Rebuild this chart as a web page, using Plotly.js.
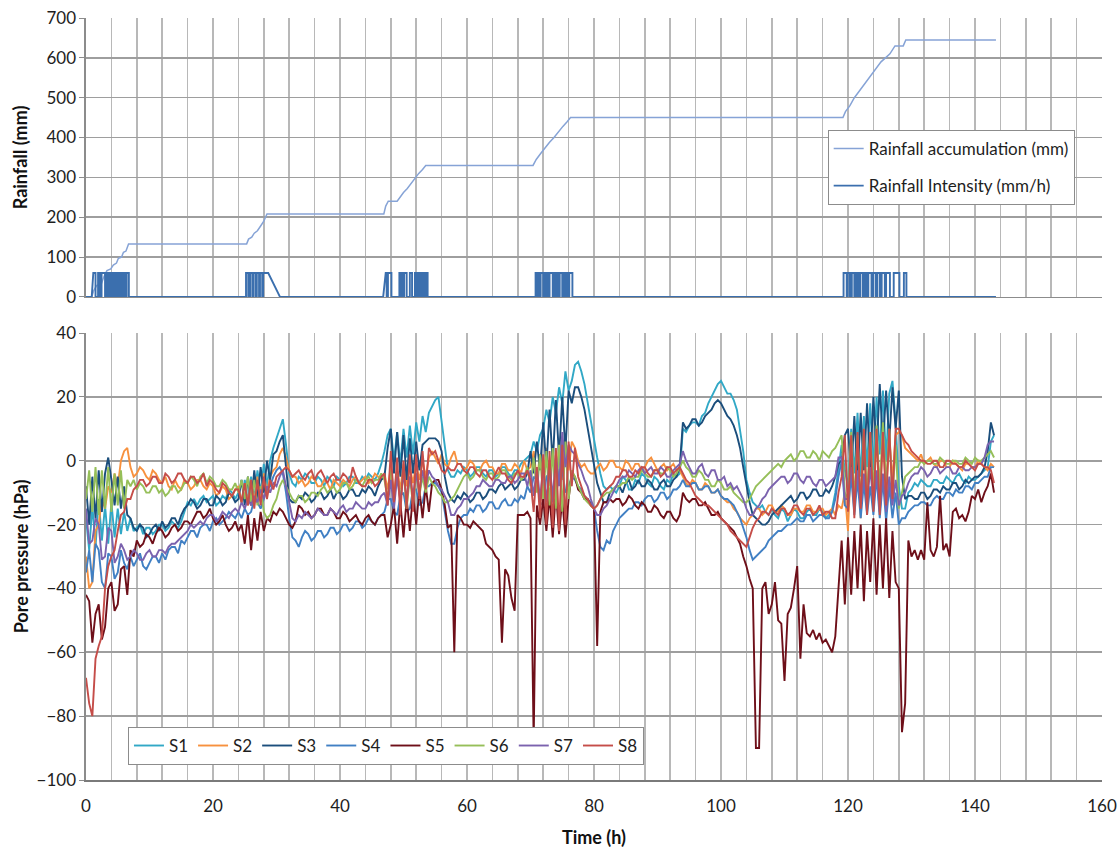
<!DOCTYPE html>
<html>
<head>
<meta charset="utf-8">
<script src="https://cdn.plot.ly/plotly-3.0.1.min.js"></script>
<style>html,body{margin:0;padding:0;background:#fff;}#chart{width:1118px;height:850px;}</style>
</head>
<body>
<div id="chart"></div>
<script>
// ---------- DATA ----------
// sample times (h) of the pore pressure readings, every half hour
const time = [0,0.5,1,1.5,2,2.5,3,3.5,4,4.5,5,5.5,6,6.5,7,7.5,8,8.5,9,9.5,10,10.5,11,11.5,
12,12.5,13,13.5,14,14.5,15,15.5,16,16.5,17,17.5,18,18.5,19,19.5,20,20.5,21,21.5,22,22.5,23,23.5,
24,24.5,25,25.5,26,26.5,27,27.5,28,28.5,29,29.5,30,30.5,31,31.5,32,32.5,33,33.5,34,34.5,35,35.5,
36,36.5,37,37.5,38,38.5,39,39.5,40,40.5,41,41.5,42,42.5,43,43.5,44,44.5,45,45.5,46,46.5,47,47.5,
48,48.5,49,49.5,50,50.5,51,51.5,52,52.5,53,53.5,54,54.5,55,55.5,56,56.5,57,57.5,58,58.5,59,59.5,
60,60.5,61,61.5,62,62.5,63,63.5,64,64.5,65,65.5,66,66.5,67,67.5,68,68.5,69,69.5,70,70.5,71,71.5,
72,72.5,73,73.5,74,74.5,75,75.5,76,76.5,77,77.5,78,78.5,79,79.5,80,80.5,81,81.5,82,82.5,83,83.5,
84,84.5,85,85.5,86,86.5,87,87.5,88,88.5,89,89.5,90,90.5,91,91.5,92,92.5,93,93.5,94,94.5,95,95.5,
96,96.5,97,97.5,98,98.5,99,99.5,100,100.5,101,101.5,102,102.5,103,103.5,104,104.5,105,105.5,106,106.5,107,107.5,
108,108.5,109,109.5,110,110.5,111,111.5,112,112.5,113,113.5,114,114.5,115,115.5,116,116.5,117,117.5,118,118.5,119,119.5,
120,120.5,121,121.5,122,122.5,123,123.5,124,124.5,125,125.5,126,126.5,127,127.5,128,128.5,129,129.5,130,130.5,131,131.5,
132,132.5,133,133.5,134,134.5,135,135.5,136,136.5,137,137.5,138,138.5,139,139.5,140,140.5,141,141.5,142,142.5,143];

const S1 = [-18,-28,-14,-27,-12,-25,-14,-26,-13,-24,-15,-23,-16,-22,-18,-22,-21,-20,-23,-21,-21,-23,-22,-20,
-20,-22,-21,-19,-20,-21,-19,-16,-13,-14,-12,-14,-12,-11,-13,-12,-11,-14,-13,-11,-12,-9,-10,-12,
-10,-13,-6,-13,-5,-12,-3,-10,-1,-8,0,4,7,10,13,5,-4,-7,-8,-5,-6,-4,-5,-7,
-7,-5,-6,-8,-5,-6,-8,-5,-6,-8,-7,-5,-5,-7,-7,-5,-6,-4,-5,-6,-4,-1,3,8,
10,0,9,-1,10,1,11,2,12,6,14,9,15,17,19,20,12,4,-3,-5,-5,-3,-4,-2,
-3,-5,-4,-2,-2,-4,-5,-3,-3,-5,-4,-2,-2,-4,-5,-3,-3,-1,0,1,2,6,3,8,
10,16,12,20,15,23,18,28,22,25,30,31,28,24,18,12,7,1,-4,-8,-9,-8,-9,-10,
-8,-5,-6,-9,-9,-6,-7,-4,-5,-7,-8,-5,-6,-8,-9,-6,-7,-4,-5,-4,10,9,11,12,
12,11,14,15,18,20,22,24,25,23,21,21,19,16,10,3,-6,-10,-13,-14,-15,-14,-16,-17,
-15,-17,-18,-15,-16,-19,-17,-15,-16,-18,-18,-16,-15,-17,-17,-15,-16,-18,-17,-15,-10,-2,5,-3,
-8,10,-4,15,-5,14,-2,18,-3,20,2,22,0,21,25,12,-8,-15,-15,-10,-9,-7,-8,-6,
-7,-8,-8,-6,-6,-7,-7,-5,-6,-7,-5,-4,-6,-7,-5,-6,-6,-5,-4,-3,-2,6,8];

const S2 = [-30,-40,-38,-22,-20,-12,-15,-8,-10,-4,-8,0,3,4,-2,-5,-4,-2,-3,-5,-6,-3,-4,-6,
-7,-5,-8,-9,-6,-8,-9,-6,-7,-9,-8,-6,-6,-8,-9,-7,-8,-11,-10,-8,-9,-12,-11,-9,
-8,-13,-7,-14,-6,-13,-5,-12,-4,-10,-5,-3,-2,2,4,1,-3,-5,-5,-7,-6,-8,-7,-5,
-6,-8,-8,-6,-7,-9,-6,-7,-8,-6,-7,-8,-6,-5,-7,-6,-5,-7,-6,-4,-5,-6,-4,-9,
-2,-10,-3,-9,-1,-8,-2,-7,-1,-6,0,-5,1,3,1,-1,2,-1,-2,1,3,-1,-1,-3,
-2,0,-1,-3,-3,-1,0,-2,-2,-4,-4,-1,-1,-3,-3,-1,-2,-4,0,-3,-2,3,-6,2,
-6,4,-8,5,-9,6,-6,7,-3,6,4,0,-2,-1,-3,-4,-4,-2,-1,-3,-2,0,0,-2,
-2,-3,0,-1,-3,-1,-1,-3,-2,0,1,-1,-3,-2,-1,-3,-2,-1,-3,-3,-5,-7,-8,-6,
-7,-9,-9,-7,-8,-10,-10,-9,-11,-12,-13,-13,-15,-16,-18,-19,-20,-18,-17,-15,-15,-17,-16,-14,
-14,-16,-16,-14,-15,-17,-17,-15,-15,-16,-16,-14,-14,-16,-16,-15,-15,-17,-16,-15,-17,-14,-15,-10,
-22,2,-16,5,-18,6,-14,6,-15,8,-12,8,-10,7,-6,8,9,8,4,3,2,1,0,2,
-1,0,1,-1,-2,0,0,-2,-2,0,-1,-2,-3,-1,-1,-2,-2,0,-1,-2,-3,-1,-2];

const S3 = [-8,-20,-5,-18,-3,-16,-4,1,-6,-14,-5,-15,-8,-17,-18,-21,-22,-20,-21,-24,-23,-21,-20,-22,
-19,-21,-20,-18,-18,-20,-17,-15,-14,-12,-13,-15,-14,-12,-12,-14,-14,-11,-12,-14,-13,-10,-11,-13,
-12,-6,-14,-5,-14,-3,-12,-2,-10,0,-6,2,3,6,8,-2,-12,-13,-13,-11,-12,-10,-11,-13,
-12,-10,-10,-12,-11,-9,-12,-10,-10,-12,-11,-9,-9,-11,-11,-9,-10,-8,-9,-11,-8,-6,-5,4,
10,-4,9,-5,8,-6,7,-4,6,-3,5,6,7,7,7,6,3,-5,-10,-12,-13,-11,-12,-10,
-11,-13,-12,-10,-10,-12,-11,-9,-9,-10,-8,-7,-9,-8,-7,-9,-8,-6,-6,-4,3,-4,6,-3,
12,-2,16,-1,19,1,20,3,22,18,23,23,20,16,10,5,-2,-7,-10,-13,-13,-10,-9,-8,
-8,-10,-7,-6,-9,-8,-6,-8,-8,-6,-7,-9,-9,-7,-6,-8,-8,-6,-5,-2,12,10,11,13,
13,11,12,14,15,16,18,19,18,16,14,13,11,8,4,-2,-8,-13,-17,-18,-19,-20,-20,-19,
-17,-16,-15,-14,-13,-12,-11,-13,-12,-10,-10,-12,-11,-9,-9,-11,-11,-9,-10,-8,-5,-1,0,8,
10,-4,14,-5,15,-3,18,-2,20,3,24,5,22,6,23,10,22,-5,-12,-11,-11,-12,-12,-10,
-10,-12,-11,-9,-9,-10,-8,-9,-9,-7,-7,-9,-8,-6,-7,-6,-5,-5,-4,-2,3,12,8];

const S4 = [-35,-28,-38,-26,-28,-38,-40,-29,-30,-37,-35,-28,-32,-34,-30,-33,-31,-29,-33,-34,-32,-30,-30,-32,
-29,-31,-28,-27,-27,-29,-25,-26,-24,-22,-22,-24,-21,-20,-20,-22,-19,-18,-20,-19,-18,-16,-17,-18,
-16,-18,-15,-17,-16,-12,-13,-15,-12,-9,-8,-5,-3,-2,-4,-10,-18,-24,-25,-27,-24,-22,-23,-25,
-24,-22,-22,-24,-23,-21,-21,-23,-22,-20,-20,-22,-21,-19,-19,-21,-20,-18,-19,-20,-18,-17,-16,-12,
-12,-16,-17,-11,-10,-16,-15,-9,-9,-14,-13,-8,-8,-7,-7,-8,-10,-16,-22,-26,-26,-21,-18,-17,
-17,-15,-16,-14,-14,-16,-15,-13,-13,-15,-15,-13,-12,-14,-14,-12,-13,-11,-12,-8,-10,-5,-6,-13,
-14,-5,-4,-13,-12,-3,-3,-10,-8,-5,-6,-8,-9,-11,-12,-13,-15,-22,-27,-28,-25,-26,-22,-20,
-18,-17,-16,-15,-15,-13,-13,-14,-12,-11,-11,-13,-12,-10,-10,-12,-11,-9,-9,-8,-6,-8,-8,-7,
-7,-9,-9,-8,-8,-10,-10,-9,-11,-12,-12,-13,-14,-16,-18,-21,-24,-28,-31,-30,-29,-28,-27,-25,
-24,-23,-22,-22,-21,-20,-20,-19,-18,-19,-19,-17,-17,-19,-18,-17,-17,-18,-18,-16,-12,-5,0,-14,
-15,-5,-17,-6,-18,-7,-17,-8,-17,-5,-18,-6,-19,-8,-18,-10,-20,-18,-18,-16,-15,-14,-14,-13,
-13,-14,-14,-12,-11,-12,-12,-10,-10,-11,-9,-10,-10,-8,-8,-9,-7,-7,-6,-5,-5,-2,-2];

const S5 = [-42,-44,-57,-48,-45,-56,-52,-40,-38,-47,-45,-34,-33,-42,-28,-30,-25,-27,-26,-23,-24,-26,-23,-21,
-22,-24,-23,-21,-20,-22,-21,-19,-19,-20,-18,-16,-16,-18,-17,-15,-18,-20,-19,-17,-20,-22,-21,-19,
-22,-20,-26,-17,-28,-18,-25,-16,-22,-18,-19,-16,-17,-15,-16,-18,-20,-21,-19,-14,-15,-17,-16,-18,
-17,-15,-15,-17,-17,-15,-16,-18,-18,-16,-17,-19,-18,-17,-19,-20,-18,-17,-19,-20,-18,-17,-17,-24,
-20,-14,-26,-13,-24,-12,-22,-10,-20,-9,-18,-8,-16,-7,-6,-6,-9,-14,-21,-20,-60,-17,-18,-20,
-20,-21,-19,-20,-21,-22,-26,-27,-28,-30,-31,-57,-34,-36,-43,-47,-17,-17,-17,-16,-18,-88,-14,-20,
-12,-22,-11,-24,-10,-23,-12,-24,-12,-4,-5,-9,-10,-12,-12,-14,-15,-58,-16,-13,-13,-12,-13,-12,
-12,-14,-13,-11,-12,-14,-15,-13,-14,-16,-16,-14,-15,-17,-18,-16,-16,-18,-19,-17,-10,-12,-13,-12,
-12,-14,-14,-13,-15,-17,-17,-16,-18,-19,-20,-21,-22,-24,-26,-30,-33,-37,-40,-90,-90,-40,-38,-48,
-45,-38,-50,-51,-69,-48,-46,-40,-33,-62,-45,-54,-55,-53,-56,-54,-57,-56,-58,-60,-55,-40,-25,-45,
-24,-42,-22,-40,-20,-44,-22,-38,-18,-42,-20,-40,-18,-43,-22,-38,-40,-85,-76,-25,-30,-28,-31,-28,
-31,-13,-28,-30,-27,-11,-28,-26,-30,-16,-15,-18,-17,-19,-16,-11,-12,-9,-13,-10,-8,-4,-10];

const S6 = [-12,-3,-16,-2,-17,-3,-15,-2,-16,-4,-14,-3,-15,-6,-8,-6,-9,-7,-8,-10,-10,-8,-8,-10,
-9,-11,-10,-8,-8,-10,-9,-7,-7,-5,-6,-8,-5,-4,-7,-5,-6,-8,-8,-6,-7,-9,-9,-7,
-10,-6,-12,-5,-13,-6,-14,-8,-16,-18,-17,-14,-12,-8,-6,-8,-10,-12,-13,-11,-11,-13,-12,-10,
-10,-11,-9,-8,-10,-9,-8,-10,-9,-7,-7,-9,-8,-6,-7,-8,-6,-5,-7,-6,-6,-4,-6,-12,
-3,-13,-4,-12,-3,-15,-5,-14,-4,-11,-5,-10,-5,-7,-8,-10,-11,-13,-13,-12,-11,-9,-7,-5,
-4,-6,-5,-3,-3,-5,-6,-4,-4,-6,-5,-3,-3,-5,-6,-4,-4,-6,-5,-2,-8,1,-10,2,
-12,3,-14,4,-15,5,-16,6,-12,-3,-5,-8,-10,-12,-13,-14,-15,-14,-12,-11,-10,-10,-9,-8,
-8,-7,-7,-5,-6,-5,-5,-3,-4,-5,-5,-3,-3,-4,-4,-2,-3,-5,-4,-2,0,-2,-3,-5,
-5,-3,-4,-6,-6,-8,-8,-6,-7,-9,-9,-8,-10,-11,-12,-13,-13,-12,-10,-8,-7,-6,-5,-4,
-3,-2,-1,-2,0,1,2,0,1,3,3,1,1,3,2,0,3,2,1,3,4,6,8,-10,
-12,9,-13,8,-14,10,-12,9,-10,11,-9,12,-8,10,-12,5,-15,-10,-5,-4,-3,-2,-2,0,
-1,0,0,-1,-1,1,0,-1,-1,0,0,-1,-1,1,0,-1,1,0,0,1,2,3,1];

const S7 = [-15,-26,-25,-18,-20,-31,-30,-21,-22,-32,-30,-26,-28,-31,-30,-28,-29,-31,-31,-29,-28,-30,-30,-28,
-28,-29,-27,-26,-26,-25,-24,-23,-22,-20,-21,-20,-19,-20,-18,-17,-17,-19,-18,-16,-17,-18,-16,-15,
-16,-13,-15,-12,-14,-11,-13,-9,-12,-8,-10,-7,-8,-5,-3,-8,-14,-18,-19,-17,-18,-16,-17,-18,
-17,-15,-16,-17,-17,-15,-16,-17,-15,-14,-16,-15,-15,-13,-14,-15,-15,-13,-14,-13,-13,-11,-10,-14,
-6,-15,-5,-13,-4,-12,-5,-11,-4,-10,-3,-8,-3,-5,-6,-8,-9,-11,-13,-17,-17,-15,-14,-12,
-12,-11,-10,-8,-8,-6,-7,-8,-8,-6,-6,-7,-7,-5,-5,-7,-6,-4,-4,-8,-3,-11,-2,-12,
-2,-13,0,-12,2,-8,9,-2,5,3,2,-1,-3,-6,-8,-12,-15,-17,-17,-15,-14,-12,-10,-8,
-6,-5,-5,-3,-4,-5,-3,-2,-4,-3,-2,-4,-4,-2,-3,-5,-5,-3,-2,-1,3,0,-2,-4,
-4,-2,-1,-4,-5,-3,-3,-6,-6,-5,-8,-7,-9,-8,-10,-12,-15,-17,-17,-15,-14,-12,-11,-9,
-8,-7,-6,-5,-5,-7,-6,-4,-4,-6,-7,-5,-5,-7,-8,-6,-6,-8,-7,-6,-5,1,1,-12,
-12,-2,-14,-3,-15,-4,-14,-2,-14,-3,-16,-4,-16,-5,-14,-6,-14,-11,-10,-7,-5,-4,-4,-2,
-3,-5,-4,-2,-2,-4,-3,-2,-2,-4,-4,-2,-2,-3,-3,-2,-2,-1,-1,1,5,6,6];

const S8 = [-68,-76,-80,-62,-58,-55,-40,-33,-30,-28,-22,-17,-16,-12,-12,-9,-8,-6,-6,-8,-7,-5,-5,-7,
-7,-4,-5,-7,-6,-4,-4,-6,-7,-5,-5,-7,-6,-4,-8,-6,-7,-9,-10,-7,-8,-10,-11,-9,
-9,-13,-7,-14,-6,-15,-6,-14,-5,-12,-6,-9,-5,-4,-3,-2,-3,-5,-4,-3,-5,-6,-4,-3,
-6,-4,-3,-5,-7,-5,-4,-6,-6,-4,-5,-7,-2,-5,-7,-8,-8,-6,-6,-8,-7,-5,-4,-14,
3,-13,1,-17,0,-15,2,-16,2,-12,3,-9,4,2,3,0,-3,-4,-2,-3,-3,-1,-1,-3,
-4,-2,-2,-4,-5,-3,-3,-5,-6,-4,-2,-4,-4,-6,-7,-5,-3,-5,-5,-3,-6,-16,-2,-18,
2,-20,3,-21,4,-22,5,-20,6,-8,4,-5,-8,-11,-12,-14,-15,-14,-12,-10,-9,-8,-7,-5,
-5,-3,-3,-5,-5,-3,-4,-2,-2,-4,-5,-3,-3,-5,-4,-2,-2,-4,-3,-2,-4,-6,-7,-9,
-11,-12,-13,-14,-14,-15,-16,-17,-18,-19,-20,-22,-23,-24,-25,-26,-27,-24,-21,-19,-18,-16,-16,-17,
-15,-16,-17,-15,-15,-17,-16,-14,-14,-16,-17,-15,-15,-17,-16,-14,-17,-16,-16,-18,-18,-10,-5,8,
-16,8,-18,9,-15,10,-17,9,-16,10,-17,9,-14,10,-12,10,10,8,6,5,3,2,1,0,
0,-1,-1,0,0,-2,-2,0,0,-1,-1,-2,-2,0,-1,-2,-3,-1,-1,-2,-2,-3,-7];

const sensorNames = ['S1','S2','S3','S4','S5','S6','S7','S8'];

// rainfall accumulation (mm)
const accTime = [0,0.9,1.2,1.7,2.4,2.8,3.3,3.9,4.3,4.8,5.1,5.6,5.9,6.3,6.7,25.3,25.6,26.1,26.5,27.0,27.5,28.0,28.5,46.9,47.2,47.6,49.0,49.4,50.0,50.6,51.2,51.8,52.4,53.0,53.5,70.4,70.9,71.6,72.3,73.0,73.7,74.4,75.1,75.8,76.3,119.2,119.6,120.3,121.0,121.7,122.4,123.1,123.8,124.5,125.2,125.9,126.6,127.4,128.7,129.1,143.3];
const accRain = [0,0,15,29,32,50,66,70,80,85,97,100,112,115,133,133,145,150,160,166,178,190,208,208,228,240,240,250,262,272,285,297,310,320,330,330,345,360,375,388,400,415,428,440,450,450,465,480,500,515,530,545,560,575,590,600,610,630,630,645,645];

// rainfall intensity pulses (mm/h): start, end, rise/fall durations (h)
const pulseOn  = [0.9,1.9,2.45,3.25,3.8,4.3,4.85,5.35,5.9,6.4,
  25.2,25.85,26.35,26.9,27.4,27.9,
  46.8,47.55,49.35,49.7,50.1,51.0,51.8,52.15,52.6,52.95,53.3,53.65,
  70.8,71.15,71.6,72.2,72.55,73.0,73.8,74.15,74.6,75.3,75.65,76.1,
  119.3,119.95,120.6,121.3,121.9,122.6,123.2,124.0,124.6,125.3,126.0,127.2,128.8];
const pulseOff = [1.5,2.2,3.0,3.5,4.05,4.55,5.1,5.6,6.15,6.75,
  25.55,26.2,26.7,27.25,27.75,28.7,
  47.35,48.1,49.6,49.9,50.5,51.35,52.05,52.35,52.85,53.1,53.55,53.8,
  71.05,71.3,72.0,72.45,72.7,73.5,74.05,74.3,75.0,75.55,75.8,76.6,
  119.8,120.3,121.0,121.6,122.3,122.9,123.7,124.4,125.0,125.8,126.6,128.1,129.2];
const pulseRise = [0.25,0,0,0,0,0,0,0,0,0, 0,0,0,0,0,0, 0.4,0,0,0,0,0,0,0,0,0,0,0, 0,0,0,0,0,0,0,0,0,0,0,0, 0,0,0,0,0,0,0,0,0,0,0,0,0];
const pulseFall = [0,0,0,0,0,0,0,0,0,0, 0,0,0,0,0,1.85, 0,0,0,0,0,0,0,0,0,0,0,0, 0,0,0,0,0,0,0,0,0,0,0,0, 0,0,0,0,0,0,0,0,0,0,0,0,0];
const pulseLevel = 60;
const rainEnd = 143.3;

// ---------- BUILD ----------
const colors = ['#31A8C6','#F7913E','#1B4E7C','#4180C4','#6E0F19','#96BF59','#7B62AE','#C54D49'];

const intT = [0], intV = [0];
for (let i = 0; i < pulseOn.length; i++) {
  intT.push(pulseOn[i]); intV.push(0);
  intT.push(pulseOn[i] + pulseRise[i]); intV.push(pulseLevel);
  intT.push(pulseOff[i]); intV.push(pulseLevel);
  intT.push(pulseOff[i] + pulseFall[i]); intV.push(0);
}
intT.push(rainEnd); intV.push(0);

const traces = [
  {x: accTime, y: accRain, xaxis:'x', yaxis:'y', mode:'lines', name:'Rainfall accumulation (mm)',
   legend:'legend', legendgroup:'a', line:{color:'#86A3D6', width:1.5}},
  {x: intT, y: intV, xaxis:'x', yaxis:'y', mode:'lines', name:'Rainfall Intensity (mm/h)',
   legend:'legend', legendgroup:'b', line:{color:'#3B6FAE', width:1.9}}
];
const sData = [S1,S2,S3,S4,S5,S6,S7,S8];
sData.forEach((s, i) => {
  traces.push({x: time, y: s, xaxis:'x2', yaxis:'y2', mode:'lines', name: sensorNames[i],
    legend:'legend2', line:{color: colors[i], width:1.9}});
});

const gridX = '#B8B8B8', gridY = '#9E9E9E';
const fontFam = 'Lato, "Open Sans", "DejaVu Sans", sans-serif';

const layout = {
  width:1118, height:850,
  margin:{l:86, r:16, t:18, b:70},
  paper_bgcolor:'#fff', plot_bgcolor:'#fff',
  font:{family:fontFam, size:17, color:'#1e1e1e'},
  xaxis:{domain:[0,1], anchor:'y', range:[0,160], tick0:0, dtick:20, showticklabels:false,
    showgrid:true, gridcolor:gridX, gridwidth:1.6, zeroline:false,
    minor:{dtick:4, showgrid:true, gridcolor:gridX, gridwidth:1.6},
    showline:true, linecolor:'#8C8C8C', linewidth:1.6},
  yaxis:{domain:[0.634,1], anchor:'x', range:[0,700], dtick:100, gridcolor:gridY, gridwidth:1.6,
    zeroline:false, showline:true, linecolor:'#8C8C8C', linewidth:1.6,
    ticks:'outside', ticklen:5, tickcolor:'#8C8C8C',
    title:{text:'<b>Rainfall (mm)</b>', font:{size:18, color:'#111'}, standoff:14}},
  xaxis2:{domain:[0,1], anchor:'y2', range:[0,160], tick0:0, dtick:20,
    showgrid:true, gridcolor:gridX, gridwidth:1.6, zeroline:false,
    minor:{dtick:4, showgrid:true, gridcolor:gridX, gridwidth:1.6},
    showline:true, linecolor:'#7A7A7A', linewidth:1.6, ticklabelstandoff:10,
    title:{text:'<b>Time (h)</b>', font:{size:18, color:'#111'}, standoff:16}},
  yaxis2:{domain:[0,0.5866], anchor:'x2', range:[-100,40], dtick:20, gridcolor:gridY, gridwidth:1.6,
    zeroline:false, showline:true, linecolor:'#8C8C8C', linewidth:1.6,
    ticks:'outside', ticklen:5, tickcolor:'#8C8C8C',
    title:{text:'<b>Pore pressure (hPa)</b>', font:{size:18, color:'#111'}, standoff:3}},
  legend:{x:0.730, y:0.853, xanchor:'left', yanchor:'top', bgcolor:'#fff',
    bordercolor:'#8C8C8C', borderwidth:1, font:{size:17}, traceorder:'grouped', tracegroupgap:12},
  legend2:{orientation:'h', x:0.0413, y:0.0696, xanchor:'left', yanchor:'top', bgcolor:'#fff',
    bordercolor:'#8C8C8C', borderwidth:1, font:{size:17}},
  showlegend:true
};

Plotly.newPlot('chart', traces, layout, {displayModeBar:false, staticPlot:true});
</script>
</body>
</html>
